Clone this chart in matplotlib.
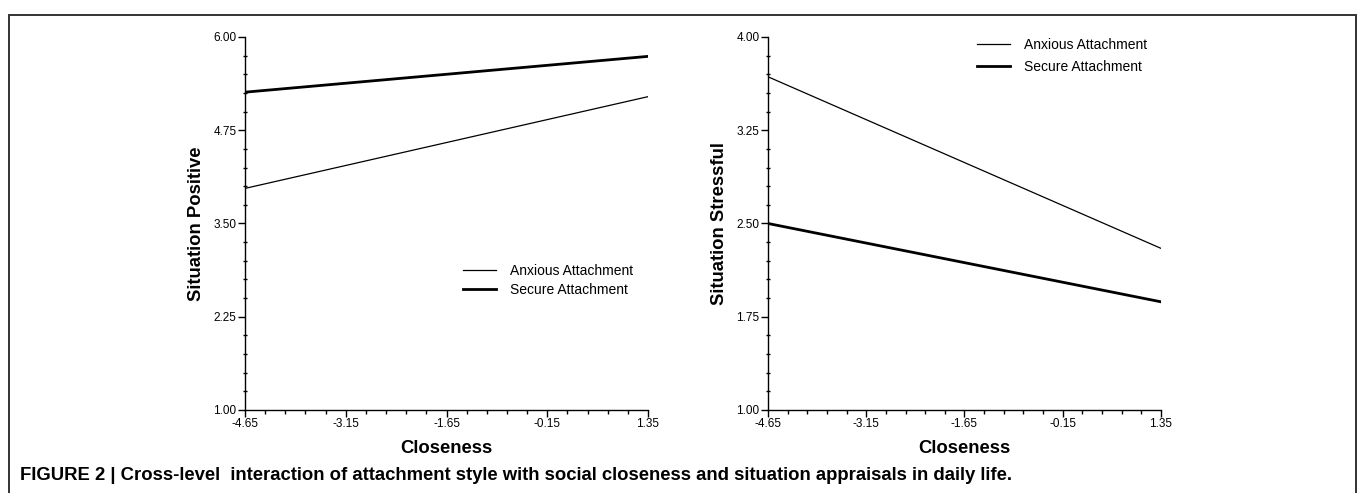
import matplotlib.pyplot as plt
from matplotlib.patches import Rectangle
from matplotlib.ticker import MultipleLocator, FixedLocator

plt.rcParams['font.family'] = ['Liberation Sans', 'DejaVu Sans']

# datos
closeness = [-4.65, 1.35]
pos_anxious = [3.97, 5.20]
pos_secure = [5.26, 5.74]
stress_anxious = [3.68, 2.30]
stress_secure = [2.50, 1.87]

x_ticks = [-4.65, -3.15, -1.65, -0.15, 1.35]
pos_ticks = [1.00, 2.25, 3.50, 4.75, 6.00]
stress_ticks = [1.00, 1.75, 2.50, 3.25, 4.00]

fig = plt.figure(figsize=(13.58, 4.93), dpi=100)
ax1 = fig.add_axes([0.1804, 0.1684, 0.2968, 0.7566])
ax2 = fig.add_axes([0.5655, 0.1684, 0.2894, 0.7566])


def style_axis(ax, yticks, ylabel):
    ax.set_xlim(x_ticks[0], x_ticks[-1])
    ax.set_ylim(yticks[0], yticks[-1])
    for s in ['top', 'right']:
        ax.spines[s].set_visible(False)
    ax.spines['left'].set_linewidth(1.0)
    ax.spines['bottom'].set_linewidth(1.0)
    ax.xaxis.set_major_locator(FixedLocator(x_ticks))
    ax.xaxis.set_minor_locator(MultipleLocator(0.3, offset=x_ticks[0]))
    ax.set_xticklabels([f'{t:.2f}' for t in x_ticks])
    ax.set_yticks(yticks)
    ax.set_yticklabels([f'{t:.2f}' for t in yticks])
    step = (yticks[1] - yticks[0]) / 5
    ax.yaxis.set_minor_locator(MultipleLocator(step, offset=yticks[0]))
    ax.tick_params(axis='both', which='major', length=5, width=1,
                   labelsize=8.5, pad=1, colors='black')
    ax.tick_params(axis='y', which='minor', length=3, width=1, direction='inout')
    ax.tick_params(axis='x', which='minor', length=3, width=1, direction='out')
    ax.set_xlabel('Closeness', fontsize=13.3, fontweight='bold', labelpad=7)
    ax.set_ylabel(ylabel, fontsize=13.3, fontweight='bold', labelpad=6)


ax1.plot(closeness, pos_anxious, color='black', lw=0.9, label='Anxious Attachment')
ax1.plot(closeness, pos_secure, color='black', lw=2.0, label='Secure Attachment')
style_axis(ax1, pos_ticks, 'Situation Positive')
ax1.legend(loc='upper left', bbox_to_anchor=(0.51, 0.425), frameon=False,
           fontsize=10, handlelength=2.4, handletextpad=1.0, labelspacing=0.35)

ax2.plot(closeness, stress_anxious, color='black', lw=0.9, label='Anxious Attachment')
ax2.plot(closeness, stress_secure, color='black', lw=2.0, label='Secure Attachment')
style_axis(ax2, stress_ticks, 'Situation Stressful')
ax2.legend(loc='upper left', bbox_to_anchor=(0.5, 1.03), frameon=False,
           fontsize=10, handlelength=2.4, handletextpad=1.0, labelspacing=0.55)

# marco exterior
fig.patches.append(Rectangle((9 / 1358, -0.05), 1347 / 1358, 1 - 15 / 493 + 0.05,
                             transform=fig.transFigure, fill=False,
                             edgecolor='#333333', lw=1.4, clip_on=False))

fig.text(20 / 1358, 1 - 475 / 493,
         'FIGURE 2 | Cross-level  interaction of attachment style with social '
         'closeness and situation appraisals in daily life.',
         fontsize=13.3, fontweight='bold', va='center', ha='left')

fig.savefig('out.png', dpi=100)
